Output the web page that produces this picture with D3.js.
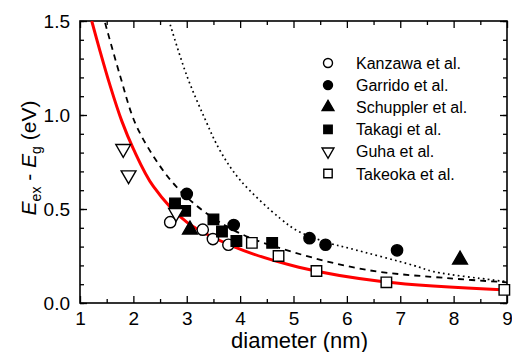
<!DOCTYPE html>
<html>
<head>
<meta charset="utf-8">
<script src="https://cdn.jsdelivr.net/npm/d3@7"></script>
<style>
  body { margin: 0; background: #fff; }
  text { font-family: "Liberation Sans", Arial, sans-serif; }
</style>
</head>
<body>
<div id="chart"></div>
<script>
// curves (diameter nm, energy eV)
var redCurve = [[1.22,1.5],[1.375,1.34],[1.56,1.16],[1.78,0.97],[2.0,0.82],[2.375,0.62],[3.0,0.43],[3.88,0.30],[5.1,0.19],[6.69,0.113],[9,0.069]];
var dashCurve = [[1.47,1.49],[1.75,1.21],[2.03,0.96],[2.4,0.77],[2.8,0.62],[3.31,0.49],[4.0,0.37],[5.0,0.27],[6.375,0.176],[7.94,0.131],[9,0.11]];
var dotCurve = [[2.69,1.48],[3.0,1.21],[3.34,0.98],[3.625,0.81],[4.0,0.654],[4.75,0.45],[5.1,0.38],[5.69,0.317],[6.06,0.29],[7.25,0.20],[7.625,0.167],[8.75,0.122],[9,0.113]];

// data points
var kanzawa = [[2.69,0.43],[3.3,0.39],[3.49,0.34],[3.78,0.31]];
var garrido = [[3.0,0.58],[3.88,0.415],[5.3,0.345],[5.6,0.31],[6.94,0.28]];
var schuppler = [[3.06,0.39],[8.12,0.23]];
var takagi = [[2.78,0.53],[2.97,0.49],[3.5,0.445],[3.66,0.38],[3.93,0.33],[4.6,0.32]];
var guha = [[1.81,0.82],[1.91,0.68],[2.8,0.48]];
var takeoka = [[4.22,0.32],[4.72,0.25],[5.43,0.17],[6.74,0.11],[8.95,0.07]];

var xTicks = [1,2,3,4,5,6,7,8,9];
var yTicks = [0,0.5,1.0,1.5];

var width = 512, height = 352;
var margin = {top: 21, right: 5, bottom: 49, left: 80};
var w = width - margin.left - margin.right,
    h = height - margin.top - margin.bottom;

var svg = d3.select("#chart").append("svg")
  .attr("width", width)
  .attr("height", height);

var g = svg.append("g")
  .attr("transform", "translate(" + margin.left + "," + margin.top + ")");

var x = d3.scaleLinear().domain([1, 9]).range([0, w]);
var y = d3.scaleLinear().domain([0, 1.5]).range([h, 0]);

g.append("clipPath").attr("id", "clip")
  .append("rect").attr("width", w).attr("height", h);

// minor tick positions
var xMinor = d3.range(1.5, 9, 1);
var yMinor = d3.range(0, 1.501, 0.1);

// bottom
g.append("g").attr("transform", "translate(0," + h + ")")
  .call(d3.axisBottom(x).tickValues(xTicks).tickSize(-7).tickPadding(9).tickFormat(d3.format("d")));
g.append("g").attr("transform", "translate(0," + h + ")")
  .call(d3.axisBottom(x).tickValues(xMinor).tickSize(-4).tickFormat(""));
// top
g.append("g")
  .call(d3.axisTop(x).tickValues(xTicks).tickSize(-7).tickFormat(""));
g.append("g")
  .call(d3.axisTop(x).tickValues(xMinor).tickSize(-4).tickFormat(""));
// left
g.append("g")
  .call(d3.axisLeft(y).tickValues(yTicks).tickSize(-7).tickPadding(10).tickFormat(d3.format(".1f")));
g.append("g")
  .call(d3.axisLeft(y).tickValues(yMinor).tickSize(-4).tickFormat(""));
// right
g.append("g").attr("transform", "translate(" + w + ",0)")
  .call(d3.axisRight(y).tickValues(yTicks).tickSize(-7).tickFormat(""));
g.append("g").attr("transform", "translate(" + w + ",0)")
  .call(d3.axisRight(y).tickValues(yMinor).tickSize(-4).tickFormat(""));

g.selectAll(".domain").remove();
g.selectAll(".tick line").attr("stroke", "#000").attr("stroke-width", 1.3);
g.selectAll(".tick text").attr("font-size", 19).attr("fill", "#000")
  .style("font-family", "Liberation Sans, Arial, sans-serif");

g.append("rect")
  .attr("width", w).attr("height", h)
  .attr("fill", "none").attr("stroke", "#000").attr("stroke-width", 1.6);

// curves
var line = d3.line()
  .x(function(d){ return x(d[0]); })
  .y(function(d){ return y(d[1]); })
  .curve(d3.curveCatmullRom.alpha(0.5));

var curves = g.append("g").attr("clip-path", "url(#clip)");
curves.append("path").datum(dotCurve).attr("d", line)
  .attr("fill", "none").attr("stroke", "#000").attr("stroke-width", 1.7)
  .attr("stroke-dasharray", "1.7,3.3");
curves.append("path").datum(dashCurve).attr("d", line)
  .attr("fill", "none").attr("stroke", "#000").attr("stroke-width", 1.8)
  .attr("stroke-dasharray", "6,5");
curves.append("path").datum(redCurve).attr("d", line)
  .attr("fill", "none").attr("stroke", "#ff0000").attr("stroke-width", 3);

// markers
var sym = {
  circle: d3.symbol().type(d3.symbolCircle).size(100),
  square: d3.symbol().type(d3.symbolSquare).size(110),
  triUp: d3.symbol().type(d3.symbolTriangle).size(95)
};
var series = [
  {name: "Kanzawa et al.", data: kanzawa, shape: "circle", fill: "#fff"},
  {name: "Garrido et al.", data: garrido, shape: "circle", fill: "#000"},
  {name: "Schuppler et al.", data: schuppler, shape: "triUp", fill: "#000"},
  {name: "Takagi et al.", data: takagi, shape: "square", fill: "#000"},
  {name: "Guha et al.", data: guha, shape: "triDown", fill: "#fff"},
  {name: "Takeoka et al.", data: takeoka, shape: "square", fill: "#fff"}
];

function drawMarker(sel, s, scale) {
  scale = scale || 1;
  var shape = s.shape === "triDown" ? sym.triUp : sym[s.shape];
  sel.append("path")
    .attr("d", shape())
    .attr("transform", function(d) {
      var t = "translate(" + d[0] + "," + d[1] + ") scale(" + scale + ")";
      return s.shape === "triDown" ? t + " rotate(180)" : t;
    })
    .attr("fill", s.fill)
    .attr("stroke", "#000")
    .attr("stroke-width", 1.4 / scale);
}

series.forEach(function(s) {
  var pts = s.data.map(function(d){ return [x(d[0]), y(d[1])]; });
  g.append("g").selectAll("g").data(pts).enter().append("g")
    .each(function(d) { drawMarker(d3.select(this), s); });
});

// legend
var legend = g.append("g").attr("transform", "translate(" + (328 - margin.left) + "," + (63 - margin.top) + ")");
series.forEach(function(s, i) {
  var row = legend.append("g");
  drawMarker(row.append("g").datum([0, i * 22.1]), s, 0.8);
  row.append("text")
    .attr("x", 28).attr("y", i * 22.1 + 6)
    .attr("font-size", 16).attr("fill", "#000")
    .text(s.name);
});

// axis titles
svg.append("text")
  .attr("x", margin.left + w / 2 + 6).attr("y", 348)
  .attr("text-anchor", "middle").attr("font-size", 22)
  .text("diameter (nm)");

var yt = svg.append("text")
  .attr("transform", "translate(36," + (margin.top + h / 2 - 4) + ") rotate(-90)")
  .attr("text-anchor", "middle").attr("font-size", 21);
yt.append("tspan").attr("font-style", "italic").text("E");
yt.append("tspan").attr("font-size", 14).attr("dy", 5).text("ex");
yt.append("tspan").attr("dy", -5).text(" - ");
yt.append("tspan").attr("font-style", "italic").text("E");
yt.append("tspan").attr("font-size", 14).attr("dy", 5).text("g");
yt.append("tspan").attr("dy", -5).text(" (eV)");
</script>
</body>
</html>
